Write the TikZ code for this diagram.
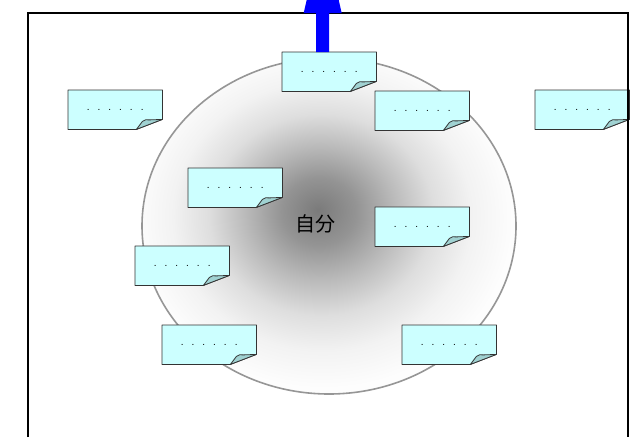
\documentclass[tikz,border=0pt]{standalone}
\usepackage{fontspec}
\setmainfont{Liberation Sans}
\newfontfamily\cjk{Noto Sans CJK JP}
\definecolor{notefill}{RGB}{204,255,255}
\definecolor{flapfill}{RGB}{160,210,210}
\definecolor{edgegray}{RGB}{150,150,150}
\pgfdeclarelayer{back}
\pgfdeclarelayer{mid}
\pgfsetlayers{back,mid,main}
\pgfdeclareradialshading{glow}{\pgfpoint{-1.5bp}{2.4bp}}{color(0bp)=(black!52); color(5bp)=(black!42); color(10bp)=(black!27); color(15bp)=(black!13); color(20bp)=(black!5); color(25bp)=(black!1); color(28bp)=(white); color(50bp)=(white)}
\newcommand\notedots{.\kern8pt.\kern8pt.\kern8pt.\kern8pt.\kern8pt.}
\newcommand\drawnote[1]{%
  \begin{pgfonlayer}{mid}
  \path[fill=notefill, draw=black!80, line width=0.8pt, line join=round]
    (#1.north west) -- (#1.north east) -- ([yshift=10pt]#1.south east)
    -- ([xshift=-26pt]#1.south east) -- (#1.south west) -- cycle;
  \path[fill=flapfill, draw=black!80, line width=0.8pt, line join=round]
    ([xshift=-26pt]#1.south east) -- ([xshift=-20pt,yshift=8pt]#1.south east)
    to[bend left=25] ([xshift=-13pt,yshift=9.5pt]#1.south east)
    -- ([yshift=10pt]#1.south east) -- cycle;
  \end{pgfonlayer}}
\tikzset{
  note/.style={anchor=north west, minimum width=94pt, minimum height=39pt,
    inner sep=0pt, font=\fontsize{10}{10}\selectfont},
  frameline/.style={line width=1.6pt, black},
}
\begin{document}
\begin{tikzpicture}[x=1pt,y=-1pt]
\useasboundingbox (0,0) rectangle (637,437);
\begin{pgfonlayer}{back}
\path[shading=glow, draw=edgegray, line width=1.6pt]
  (329,226) ellipse [x radius=187pt, y radius=168pt];
\end{pgfonlayer}
\node (self) at (315,224) {\cjk\fontsize{20}{20}\selectfont 自分};
\node[note] (n1) at (282,52) {\notedots};
\node[note] (n2) at (68,90) {\notedots};
\node[note] (n3) at (375,91) {\notedots};
\node[note] (n4) at (535,90) {\notedots};
\node[note] (n5) at (188,168) {\notedots};
\node[note] (n6) at (375,207) {\notedots};
\node[note] (n7) at (135,246) {\notedots};
\node[note] (n8) at (162,325) {\notedots};
\node[note] (n9) at (402,325) {\notedots};
\foreach \n in {n1,n2,n3,n4,n5,n6,n7,n8,n9} {\drawnote{\n}}
\draw[frameline] (28,437) -- (28,13) -- (628,13) -- (628,437);
\fill[blue] ([xshift=-13pt]n1.north) -- ++(0pt,39pt) -- ++(-12.5pt,0pt)
  -- ++(3pt,13pt) -- ++(32pt,0pt) -- ++(3pt,-13pt) -- ++(-12.5pt,0pt)
  -- ++(0pt,-39pt) -- cycle;
\end{tikzpicture}
\end{document}
